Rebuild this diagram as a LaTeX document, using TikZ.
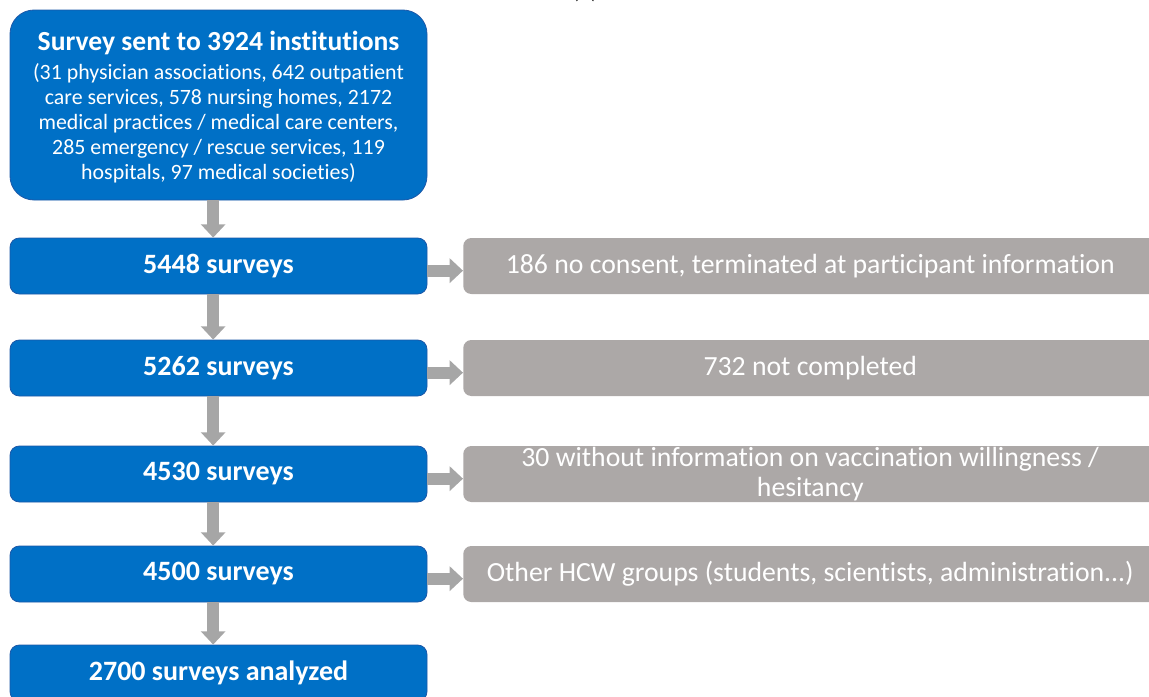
\documentclass[tikz,border=0pt]{standalone}
\usepackage{fontspec}
\setmainfont{Carlito}[Ligatures=NoCommon]
\usetikzlibrary{arrows.meta}
\definecolor{BoxBlue}{RGB}{0,112,198}
\definecolor{BoxEdge}{RGB}{28,88,168}
\definecolor{NoteGray}{RGB}{172,168,167}
\definecolor{ArrowGray}{RGB}{166,166,166}

\tikzset{
  stagebox/.style={fill=BoxBlue, draw=BoxEdge, line width=0.6pt, rounded corners=7pt,
    minimum width=312.75pt, minimum height=42pt, inner sep=0pt, text=white,
    font=\bfseries\fontsize{21}{24}\selectfont},
  startbox/.style={stagebox, rounded corners=18pt, minimum height=142.5pt, align=center,
    font=\fontsize{16.4}{18.75}\selectfont},
  dropbox/.style={fill=NoteGray, rounded corners=6pt, anchor=west, align=center,
    minimum width=520.5pt, minimum height=42pt, inner sep=0pt, text=white,
    font=\fontsize{20.8}{23}\selectfont},
  flowarrow/.style={draw=ArrowGray, line width=9pt, -{Triangle[width=18pt,length=10pt]}},
}

\begin{document}
\begin{tikzpicture}[x=0.75pt,y=-0.75pt]
\useasboundingbox (0,0) rectangle (1149,696);

% label cut at the top edge
\node[anchor=base, font=\fontsize{18}{20}\selectfont, text=black!80] (tag) at (585,-2) {(a)};

% main stream
\node[startbox] (s0) at (218.5,105) {};
\node[align=center, text=white, font=\fontsize{16.4}{18.75}\selectfont] (s0txt) at (218.5,107)
  {{\bfseries\fontsize{20.7}{24}\selectfont Survey sent to 3924 institutions}\\[3pt]
  (31 physician associations, 642 outpatient\\
  care services, 578 nursing homes, 2172\\
  medical practices / medical care centers,\\
  285 emergency / rescue services, 119\\
  hospitals, 97 medical societies)};
\node[stagebox] (s1) at (218.5,266) {5448 surveys};
\node[stagebox] (s2) at (218.5,368) {5262 surveys};
\node[stagebox] (s3) at (218.5,474) {4530 surveys};
\node[stagebox] (s4) at (218.5,574) {4500 surveys};
\node[stagebox] (s5) at (218.5,673) {2700 surveys analyzed};

% exclusions
\node[dropbox] (d1) at (463,266) {186 no consent, terminated at participant information};
\node[dropbox] (d2) at (463,368) {732 not completed};
\node[dropbox] (d3) at (463,474) {30 without information on vaccination willingness /\\ hesitancy};
\node[dropbox] (d4) at (463,574) {Other HCW groups (students, scientists, administration...)};

% arrows
\foreach \a/\b in {s0/s1,s1/s2,s2/s3,s3/s4,s4/s5}
  \draw[flowarrow] ([xshift=-4pt]\a.south) -- ([xshift=-4pt]\b.north);
\foreach \a/\b in {s1/d1,s2/d2,s3/d3,s4/d4}
  \draw[flowarrow] ([yshift=-3.5pt]\a.east) -- ([yshift=-3.5pt]\b.west);

\end{tikzpicture}
\end{document}
